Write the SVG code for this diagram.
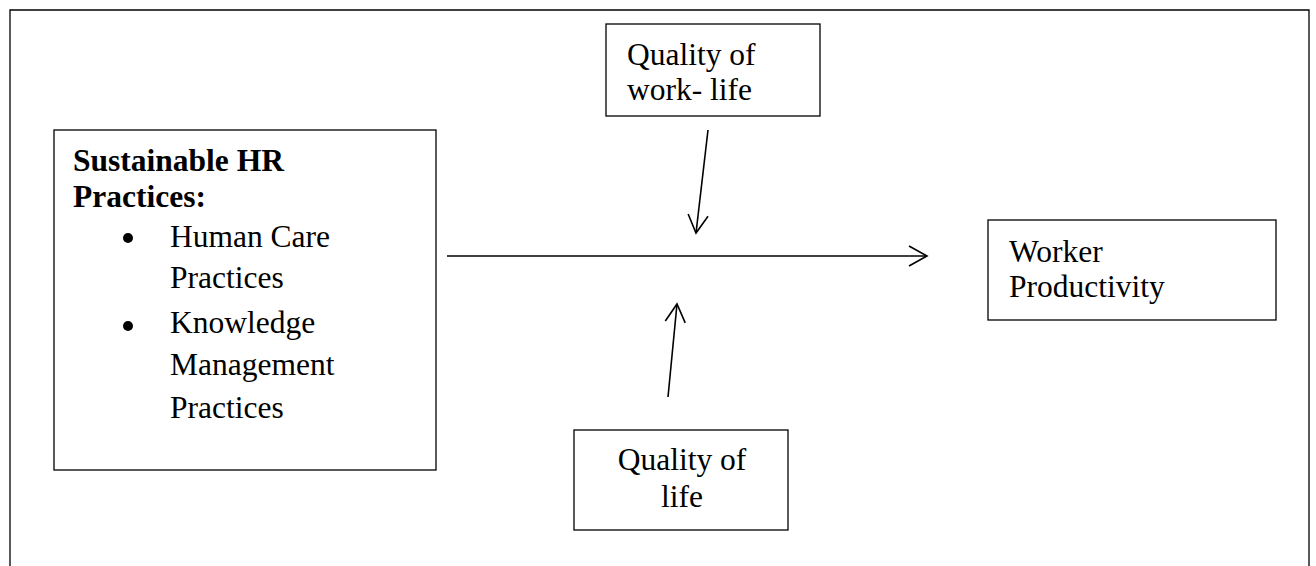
<svg xmlns="http://www.w3.org/2000/svg" width="1316" height="566" viewBox="0 0 1316 566">
<style>
.box{fill:#fff;stroke:#000;stroke-width:1.3}
.t{font-family:"Liberation Serif","Times New Roman",serif;font-size:31.5px;fill:#000}
.b{font-weight:bold}
.c{stroke:#000;stroke-width:1.6;fill:none}
</style>
<defs>
<marker id="arr" markerUnits="userSpaceOnUse" viewBox="-20 -12 22 24" markerWidth="22" markerHeight="24" refX="0" refY="0" orient="auto" overflow="visible">
<path d="M-18,-10 L0,0 L-18,10" fill="none" stroke="#000" stroke-width="1.6"/>
</marker>
</defs>
<rect width="1316" height="566" fill="#fff"/>
<path d="M10,566 L10,10 L1309,10 L1309,566" fill="none" stroke="#000" stroke-width="1.3"/>
<g id="connectors">
<line class="c" x1="447" y1="256" x2="927" y2="256" marker-end="url(#arr)"/>
<line class="c" x1="708" y1="130" x2="696" y2="233" marker-end="url(#arr)"/>
<line class="c" x1="668" y1="397" x2="677" y2="304" marker-end="url(#arr)"/>
</g>
<g id="hr">
<rect class="box" x="54" y="130" width="382" height="340"/>
<text class="t b" x="73" y="171">Sustainable HR</text>
<text class="t b" x="73" y="207">Practices:</text>
<circle cx="128" cy="238" r="5"/>
<text class="t" x="170" y="247">Human Care</text>
<text class="t" x="170" y="288">Practices</text>
<circle cx="128" cy="326" r="5"/>
<text class="t" x="170" y="333">Knowledge</text>
<text class="t" x="170" y="375">Management</text>
<text class="t" x="170" y="418">Practices</text>
</g>
<g id="qwl">
<rect class="box" x="606" y="24" width="214" height="92"/>
<text class="t" x="627" y="65">Quality of</text>
<text class="t" x="627" y="100">work- life</text>
</g>
<g id="qol">
<rect class="box" x="574" y="430" width="214" height="100"/>
<text class="t" x="682" y="470" text-anchor="middle">Quality of</text>
<text class="t" x="682" y="507" text-anchor="middle">life</text>
</g>
<g id="wp">
<rect class="box" x="988" y="220" width="288" height="100"/>
<text class="t" x="1009" y="262">Worker</text>
<text class="t" x="1009" y="297">Productivity</text>
</g>
</svg>
